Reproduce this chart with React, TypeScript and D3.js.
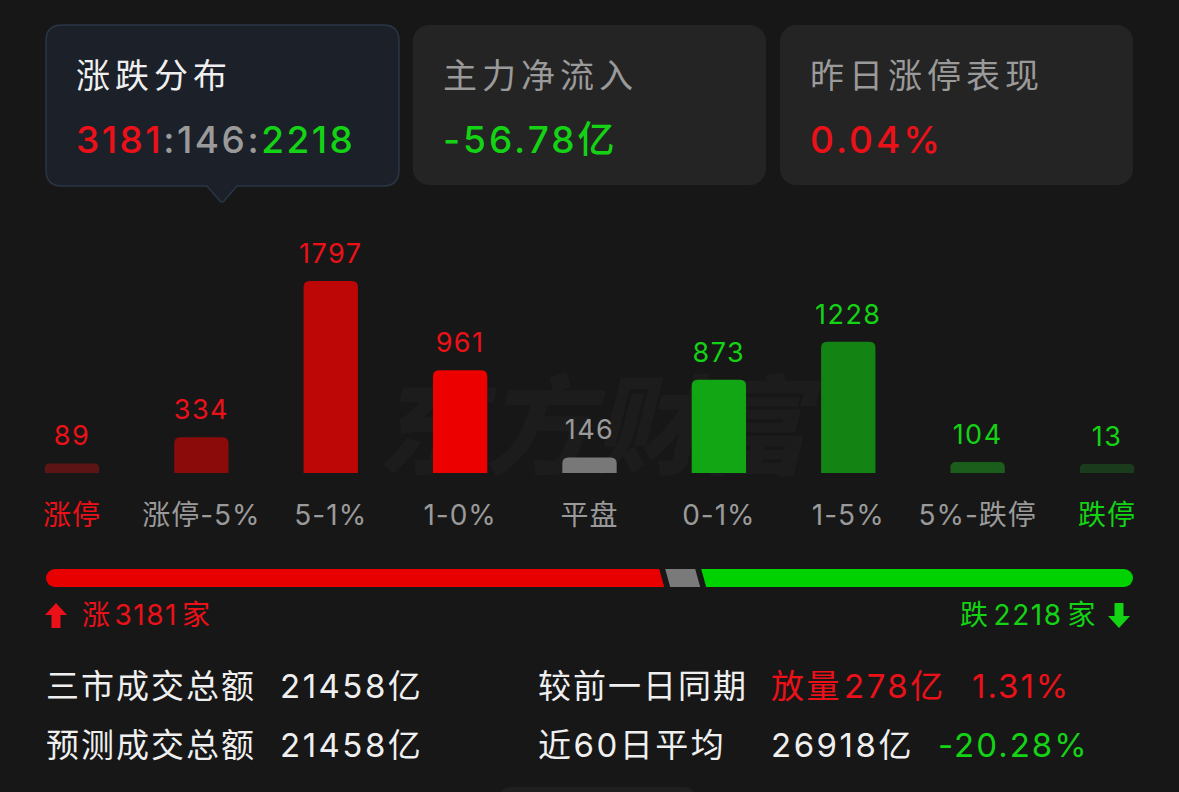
import React from 'react';
import * as d3 from 'd3';

const categories = ['涨停', '涨停-5%', '5-1%', '1-0%', '平盘', '0-1%', '1-5%', '5%-跌停', '跌停'];
const counts = [89, 334, 1797, 961, 146, 873, 1228, 104, 13];
const barPalette = ['#5c1414', '#8b0b0b', '#bd0606', '#ec0000', '#787878', '#12a514', '#138414', '#1b5e1c', '#1b3b1d'];
const labelKind = ['up', 'up', 'up', 'up', 'flat', 'down', 'down', 'down', 'down'];
const catKind = ['up', 'flat', 'flat', 'flat', 'flat', 'flat', 'flat', 'flat', 'down'];

const upCount = 3181;
const flatCount = 146;
const downCount = 2218;

const cardTitles = ['涨跌分布', '主力净流入', '昨日涨停表现'];
const netInflow = '-56.78亿';
const yesterdayLimit = '0.04%';

const turnoverTotal = '21458亿';
const turnoverForecast = '21458亿';
const vsPrev = ['放量', '278亿', '1.31%'];
const avg60 = ['26918亿', '-20.28%'];

const RED = '#ec1118';
const GREEN = '#14d214';
const GRAY = '#9a9a9a';
const WHITE = '#efefef';
const BG = '#171717';
const CJK = '"Noto Sans CJK SC", sans-serif';
const NUM = 'Inter, "Noto Sans CJK SC", sans-serif';

export default function App() {
  const W = 1179, H = 792;
  const x = d3.scaleBand<string>().domain(categories).range([7.3, 1171.7]).paddingInner(0.58).paddingOuter(0.29);
  const y = d3.scaleLinear().domain([0, d3.max(counts) as number]).range([473, 281]);
  const bw = x.bandwidth();
  const minH = 9;

  const textColor = (k: string) => (k === 'up' ? RED : k === 'down' ? GREEN : GRAY);

  const barPath = (x0: number, top: number, w: number, bottom: number) => {
    const r = Math.min(6, (bottom - top) / 2);
    return `M${x0},${bottom} L${x0},${top + r} Q${x0},${top} ${x0 + r},${top} L${x0 + w - r},${top} Q${x0 + w},${top} ${x0 + w},${top + r} L${x0 + w},${bottom} Z`;
  };

  // progress bar
  const pL = 46, pR = 1133, pT = 569, pB = 587, gap = 6, slant = 5, flatW = 30;
  const rest = pR - pL - flatW - 2 * gap;
  const share = d3.scaleLinear().domain([0, upCount + downCount]).range([0, rest]);
  const redEnd = pL + share(upCount);
  const grayStart = redEnd + gap;
  const grayEnd = grayStart + flatW;
  const greenStart = grayEnd + gap;
  const rr = (pB - pT) / 2;
  const s2 = slant / 2;
  const redPath = `M${pL + rr},${pT} L${redEnd - s2},${pT} L${redEnd + s2},${pB} L${pL + rr},${pB} A${rr},${rr} 0 0 1 ${pL + rr},${pT} Z`;
  const grayPath = `M${grayStart - s2},${pT} L${grayEnd - s2},${pT} L${grayEnd + s2},${pB} L${grayStart + s2},${pB} Z`;
  const greenPath = `M${greenStart - s2},${pT} L${pR - rr},${pT} A${rr},${rr} 0 0 1 ${pR - rr},${pB} L${greenStart + s2},${pB} Z`;

  // card 1 with pointer
  const c1 = { x0: 46, y0: 25, x1: 399, y1: 186, r: 16 };
  const px = 222, ph = 16;
  const card1Path = `M${c1.x0 + c1.r},${c1.y0} L${c1.x1 - c1.r},${c1.y0} Q${c1.x1},${c1.y0} ${c1.x1},${c1.y0 + c1.r} L${c1.x1},${c1.y1 - c1.r} Q${c1.x1},${c1.y1} ${c1.x1 - c1.r},${c1.y1} L${px + 15},${c1.y1} L${px + 2},${c1.y1 + ph - 1} Q${px},${c1.y1 + ph + 1} ${px - 2},${c1.y1 + ph - 1} L${px - 15},${c1.y1} L${c1.x0 + c1.r},${c1.y1} Q${c1.x0},${c1.y1} ${c1.x0},${c1.y1 - c1.r} L${c1.x0},${c1.y0 + c1.r} Q${c1.x0},${c1.y0} ${c1.x0 + c1.r},${c1.y0} Z`;

  const cards = [
    { x0: 413, x1: 766 },
    { x0: 780, x1: 1133 },
  ];

  return (
    <svg width={W} height={H} style={{ position: 'absolute', left: 0, top: 0, background: BG }}>
      <rect x={0} y={0} width={W} height={H} fill={BG} />

      {/* cards */}
      <path d={card1Path} fill="#1b2029" stroke="#2a3645" strokeWidth={1.5} />
      {cards.map((c, i) => (
        <rect key={i} x={c.x0} y={25} width={c.x1 - c.x0} height={160} rx={16} fill="#242424" />
      ))}
      <text x={76} y={88} fontFamily={CJK} fontSize={34} letterSpacing={5} fill={WHITE}>{cardTitles[0]}</text>
      <text x={443} y={88} fontFamily={CJK} fontSize={34} letterSpacing={5} fill={GRAY}>{cardTitles[1]}</text>
      <text x={810} y={88} fontFamily={CJK} fontSize={34} letterSpacing={5} fill={GRAY}>{cardTitles[2]}</text>

      <text x={76} y={153} fontFamily={NUM} fontSize={37} fontWeight={500} letterSpacing={2.5}>
        <tspan fill={RED}>{upCount}</tspan>
        <tspan fill={GRAY}>:{flatCount}:</tspan>
        <tspan fill={GREEN}>{downCount}</tspan>
      </text>
      <text x={443} y={153} fontFamily={NUM} fontSize={37} fontWeight={500} letterSpacing={3} fill={GREEN}>{netInflow}</text>
      <text x={810} y={153} fontFamily={NUM} fontSize={37} fontWeight={500} letterSpacing={3} fill={RED}>{yesterdayLimit}</text>

      {/* watermark */}
      <text x={592} y={466} textAnchor="middle" fontFamily={CJK} fontSize={108} fontWeight={900} fontStyle="italic" fill="#1c1c1c">东方财富</text>

      {/* bars */}
      {categories.map((c, i) => {
        const x0 = x(c) as number;
        const top = Math.min(y(counts[i]), y(0) - minH);
        return (
          <g key={c}>
            <path d={barPath(x0, top, bw, y(0))} fill={barPalette[i]} />
            <text x={x0 + bw / 2} y={top - 18} textAnchor="middle" fontFamily={NUM} fontSize={27} letterSpacing={1.5} fill={textColor(labelKind[i])}>{counts[i]}</text>
            <text x={x0 + bw / 2} y={525} textAnchor="middle" fontFamily={NUM} fontSize={28} letterSpacing={1} fill={textColor(catKind[i])}>{c}</text>
          </g>
        );
      })}

      {/* progress bar */}
      <path d={redPath} fill="#e80000" />
      <path d={grayPath} fill="#7a7a7a" />
      <path d={greenPath} fill="#00d200" />

      {/* up label */}
      <path d="M56,603 L67,615 L60.5,615 L60.5,628 L51.5,628 L51.5,615 L45,615 Z" fill={RED} />
      <text x={82} y={625} fontFamily={NUM} fontSize={28} letterSpacing={1.5} fill={RED}>
        <tspan>涨</tspan><tspan dx={3}>{upCount}</tspan><tspan dx={4}>家</tspan>
      </text>
      {/* down label */}
      <text x={1097} y={625} textAnchor="end" fontFamily={NUM} fontSize={28} letterSpacing={1.5} fill={GREEN}>
        <tspan>跌</tspan><tspan dx={4}>{downCount}</tspan><tspan dx={5}>家</tspan>
      </text>
      <path d="M1119,628 L1108,616 L1114.5,616 L1114.5,603 L1123.5,603 L1123.5,616 L1130,616 Z" fill={GREEN} />

      {/* bottom stats */}
      <text x={46} y={698} fontFamily={CJK} fontSize={33} letterSpacing={2} fill={WHITE}>三市成交总额</text>
      <text x={280} y={698} fontFamily={NUM} fontSize={33} letterSpacing={2.5} fill={WHITE}>{turnoverTotal}</text>
      <text x={46} y={757} fontFamily={CJK} fontSize={33} letterSpacing={2} fill={WHITE}>预测成交总额</text>
      <text x={280} y={757} fontFamily={NUM} fontSize={33} letterSpacing={2.5} fill={WHITE}>{turnoverForecast}</text>

      <text x={538} y={698} fontFamily={CJK} fontSize={33} letterSpacing={2} fill={WHITE}>较前一日同期</text>
      <text x={771} y={698} fontFamily={NUM} fontSize={33} letterSpacing={2.5} fill={RED}>
        <tspan>{vsPrev[0]}</tspan><tspan dx={2}>{vsPrev[1]}</tspan>
      </text>
      <text x={972} y={698} fontFamily={NUM} fontSize={33} letterSpacing={2} fill={RED}>{vsPrev[2]}</text>

      <text x={538} y={757} fontFamily={NUM} fontSize={33} letterSpacing={2.5} fill={WHITE}>近60日平均</text>
      <text x={771} y={757} fontFamily={NUM} fontSize={33} letterSpacing={2.5} fill={WHITE}>{avg60[0]}</text>
      <text x={938} y={757} fontFamily={NUM} fontSize={33} letterSpacing={2} fill={GREEN}>{avg60[1]}</text>

      <rect x={500} y={787} width={195} height={20} rx={10} fill="#1f1f1f" />
    </svg>
  );
}
